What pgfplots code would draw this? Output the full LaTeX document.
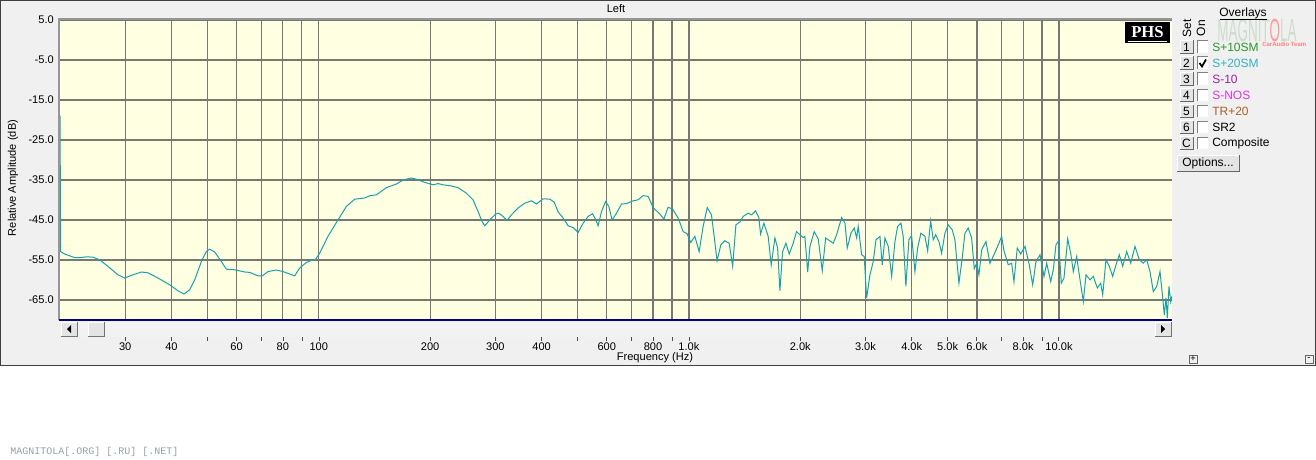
\documentclass[border=0pt]{standalone}
\usepackage{pgfplots}
\pgfplotsset{compat=1.18}
\usepackage{fontspec}
\setmainfont{Liberation Sans}
\newfontfamily\phsfont{Liberation Serif}
\newfontfamily\wmfont{Liberation Mono}
\definecolor{winbg}{RGB}{240,240,240}
\definecolor{plotbg}{RGB}{255,255,225}
\definecolor{gridc}{RGB}{120,120,114}
\definecolor{curve}{RGB}{25,160,175}
\definecolor{frameg}{RGB}{150,150,150}
\definecolor{navyc}{RGB}{0,0,128}
\definecolor{btn}{RGB}{228,228,228}
\definecolor{cgreen}{RGB}{40,150,40}
\definecolor{cteal}{RGB}{50,178,190}
\definecolor{cpurple}{RGB}{160,30,160}
\definecolor{cmag}{RGB}{225,50,225}
\definecolor{cbrown}{RGB}{170,95,40}
\definecolor{wm}{RGB}{150,160,170}
\definecolor{logo}{RGB}{205,220,205}
\begin{document}
\begin{tikzpicture}[font=\fontsize{8.3}{10}\selectfont]
\begin{scope}[x=0.75pt,y=0.75pt]
\useasboundingbox (0,0) rectangle (1316,-460);
\fill[white] (0,0) rectangle (1316,-460);
\fill[winbg] (0,0) rectangle (1316,-365);
\draw[black!75,line width=0.75pt] (0.5,-0.5) rectangle (1315.5,-365);
\node at (616,-9) {Left};
\end{scope}
\begin{axis}[
  at={(45pt,-15pt)}, anchor=north west,
  width=834pt, height=225pt, scale only axis,
  xmode=log, xmin=20, xmax=20200, ymin=-70, ymax=5,
  axis background/.style={fill=plotbg},
  axis line style={draw=none},
  xtick={30,40,60,80,100,200,300,400,600,800,1000,2000,3000,4000,5000,6000,8000,10000},
  xticklabels={30,40,60,80,100,200,300,400,600,800,1.0k,2.0k,3.0k,4.0k,5.0k,6.0k,8.0k,10.0k},
  minor xtick={50,70,90,500,700,900,7000,9000},
  ytick={-65,-55,-45,-35,-25,-15,-5,5},
  yticklabels={-65.0,-55.0,-45.0,-35.0,-25.0,-15.0,-5.0,5.0},
  grid=both,
  major grid style={gridc,line width=0.95pt},
  minor grid style={gridc,line width=0.95pt},
  major tick length=0pt, minor tick length=0pt,
  tick label style={font=\fontsize{8.3}{10}\selectfont},
  xticklabel style={anchor=base,yshift=-23pt},
  yticklabel style={anchor=east,inner sep=0pt,xshift=-4.5pt},
]
\addplot[curve,line width=0.75pt] coordinates {
(20,-18.9)(20.04,-36)(20.08,-52.9)(20.58,-53.5)(21.90,-54.4)(22.84,-54.4)(23.56,-54.2)(24.55,-54.3)
(25.59,-54.95)(26.95,-56.6)(28.68,-58.7)(29.90,-59.5)(31.49,-58.7)(33.18,-58.0)(34.57,-58.2)
(36.79,-59.5)(39.57,-61.2)(41.66,-62.7)(43.25,-63.5)(44.81,-62.45)(46.23,-59.95)(48.19,-55.4)
(49.71,-52.9)(50.75,-52.3)(52.35,-53.0)(54.58,-55.4)(56.31,-57.3)(59.29,-57.45)(63.09,-58.0)
(65.09,-58.1)(68.54,-58.95)(70.44,-58.95)(72.94,-57.9)(76.86,-57.5)(80.08,-57.9)(83.49,-58.5)
(86.13,-58.95)(88.85,-57.0)(92.63,-55.6)(95.56,-55.1)(98.14,-54.8)(100.6,-53.3)(105.9,-49.1)
(112.7,-45.0)(118.8,-41.6)(125.1,-39.8)(133.1,-39.5)(137.3,-38.95)(143.2,-38.7)(152.4,-36.9)
(162.2,-36.0)(169.0,-35.0)(178.1,-34.5)(183.7,-34.8)(193.4,-35.6)(203.7,-36.2)(210.1,-35.9)
(216.8,-36.2)(228.4,-36.5)(237.9,-36.9)(250.7,-38.3)(261.2,-39.95)(269.5,-42.9)(276.3,-45.4)
(281.0,-46.45)(289.9,-44.95)(300.9,-43.5)(306.5,-43.3)(314.8,-44.1)(322.8,-45.1)(331.7,-43.7)
(345.6,-42.0)(360.3,-40.8)(375.7,-40.2)(387.6,-41.0)(403.8,-39.7)(421.0,-39.8)(432.5,-40.5)
(443.5,-43.0)(457.5,-44.5)(471.9,-46.45)(486.8,-46.9)(502.1,-48.1)(518.0,-45.8)(534.4,-44.1)
(549.2,-43.45)(559.6,-44.8)(568.7,-46.45)(580.8,-42.9)(595.5,-40.4)(607.8,-41.6)(620.4,-45.0)
(637.6,-43.3)(657.8,-41.0)(678.6,-40.9)(707.1,-40.2)(729.5,-39.95)(752.5,-38.9)(776.3,-39.1)
(800.8,-41.9)(834.9,-43.5)(855.9,-44.8)(879.0,-41.8)(903.5,-42.3)(935.5,-44.5)(965.1,-47.9)
(989.4,-48.45)(1012,-50.6)(1038,-49.1)(1066,-52.9)(1093,-46.6)(1121,-41.9)(1151,-43.7)
(1175,-50.4)(1192,-55.2)(1220,-51.2)(1251,-50.2)(1285,-50.8)(1313,-56.6)(1340,-46.2)
(1374,-45.5)(1402,-44.1)(1446,-43.3)(1477,-43.7)(1514,-42.7)(1546,-44.4)(1562,-48.5)
(1595,-45.8)(1638,-49.1)(1669,-56.2)(1708,-49.5)(1737,-52.0)(1762,-62.7)(1792,-52.9)
(1829,-50.8)(1867,-53.5)(1914,-50.8)(1954,-47.9)(1995,-48.7)(2036,-49.4)(2058,-49.1)
(2094,-58.0)(2124,-51.6)(2181,-47.9)(2236,-49.7)(2293,-57.7)(2342,-49.5)(2380,-49.95)
(2455,-50.8)(2507,-48.7)(2587,-44.4)(2641,-45.8)(2679,-52.0)(2741,-48.3)(2798,-47.0)
(2840,-49.5)(2868,-46.6)(2930,-53.7)(2977,-54.1)(3022,-64.5)(3085,-58.7)(3149,-55.4)
(3202,-49.95)(3283,-49.1)(3330,-56.2)(3386,-49.5)(3457,-51.6)(3531,-59.1)(3604,-50.4)
(3664,-46.6)(3741,-45.8)(3794,-49.1)(3858,-61.6)(3931,-49.95)(3998,-48.9)(4081,-57.9)
(4150,-52.0)(4236,-48.3)(4343,-49.1)(4417,-52.7)(4500,-45.2)(4573,-49.95)(4642,-48.7)
(4738,-50.4)(4818,-53.3)(4918,-48.3)(5020,-46.2)(5147,-47.45)(5234,-49.95)(5366,-60.8)
(5477,-54.5)(5570,-48.3)(5686,-47.0)(5808,-49.5)(5903,-57.2)(5992,-55.8)(6078,-58.7)
(6181,-52.45)(6349,-50.4)(6509,-55.8)(6673,-53.7)(6854,-51.2)(7000,-49.1)(7101,-52.7)
(7294,-56.2)(7450,-55.8)(7557,-60.4)(7714,-52.0)(7879,-53.5)(8093,-51.6)(8312,-56.2)
(8490,-61.2)(8666,-55.4)(8885,-53.7)(9109,-59.1)(9263,-55.8)(9497,-60.4)(9652,-57.45)
(9814,-51.2)(9980,-50.2)(10143,-60.8)(10315,-59.5)(10555,-49.7)(10754,-53.3)(10930,-57.9)
(11164,-54.1)(11396,-59.95)(11632,-65.4)(11829,-58.7)(12127,-59.95)(12379,-59.1)(12690,-62.0)
(12962,-60.8)(13124,-63.7)(13396,-54.95)(13674,-56.6)(13966,-59.1)(14256,-56.2)(14552,-53.7)
(14863,-56.6)(15238,-52.9)(15621,-55.8)(16045,-51.6)(16480,-54.95)(16895,-55.8)(17256,-54.95)
(17614,-57.9)(17980,-62.9)(18365,-61.6)(18746,-57.9)(19064,-64.5)(19255,-68.7)(19459,-64.5)
(19618,-69.5)(19826,-61.6)(20037,-65.4)(20162,-64.1)
};
\end{axis}
\begin{scope}[x=0.75pt,y=0.75pt]
% plot frame
\draw[frameg,line width=1.5pt] (58,-19.5) -- (1172,-19.5);
\draw[frameg,line width=1.5pt] (59,-19) -- (59,-320);
\draw[navyc,line width=1pt] (59,-320) -- (1172,-320);
% scrollbar
\fill[black!5] (60,-321) rectangle (1172,-337);
\foreach \a/\b in {61/77,88/104,1155/1171}{
  \fill[btn] (\a,-322) rectangle (\b,-336);
  \draw[white,line width=0.75pt] (\a,-336) -- (\a,-322) -- (\b,-322);
  \draw[black!55,line width=0.75pt] (\a,-336) -- (\b,-336) -- (\b,-322);
}
\fill[black] (67,-329) -- (71,-325) -- (71,-333) -- cycle;
\fill[black] (1165,-329) -- (1161,-325) -- (1161,-333) -- cycle;
% ticks under the scrollbar
\foreach \f in {30,40,50,60,70,80,90,100,200,300,400,500,600,700,800,900,1000,2000,3000,4000,5000,6000,7000,8000,9000,10000}{
  \pgfmathsetmacro\xx{60.4+370*log10(\f/20)}
  \draw[black!70,line width=0.75pt] (\xx,-337) -- (\xx,-341);
}
% axis labels
\node[rotate=90] at (13,-178) {Relative Amplitude (dB)};
\node at (655,-358) {Frequency (Hz)};
% PHS box
\fill[black] (1125,-22) rectangle (1170,-43);
\node[text=white,font=\phsfont\bfseries\fontsize{12.5}{14}\selectfont] at (1147.5,-32) {PHS};
\draw[white,line width=0.6pt] (1128,-41) -- (1167,-41);
% logo watermark
\node[text=logo,font=\fontsize{24}{26}\selectfont,xscale=0.42,inner sep=0pt] at (1257,-30) {MAGNIT\textcolor{red!40}{O}LA};
\node[anchor=west,text=red!50,font=\bfseries\fontsize{4.5}{5}\selectfont,inner sep=0pt] at (1262,-44) {CarAudio Team};
% overlays panel
\node[font=\fontsize{9}{11}\selectfont] at (1243,-13) {Overlays};
\draw[black,line width=0.6pt] (1220,-19) -- (1267,-19);
\node[rotate=90,font=\fontsize{9}{11}\selectfont] at (1187,-28) {Set};
\node[rotate=90,font=\fontsize{9}{11}\selectfont] at (1201,-28) {On};
\foreach \k/\lab/\txt/\col in {0/1/S+10SM/cgreen,1/2/S+20SM/cteal,2/3/S-10/cpurple,3/4/S-NOS/cmag,4/5/TR+20/cbrown,5/6/SR2/black,6/C/Composite/black}{
  \pgfmathsetmacro\yc{-(47+16*\k)}
  \fill[btn] (1180,\yc+6.5) rectangle (1193,\yc-6.5);
  \draw[white,line width=0.75pt] (1180,\yc-6.5) -- (1180,\yc+6.5) -- (1193,\yc+6.5);
  \draw[black!60,line width=0.75pt] (1180,\yc-6.5) -- (1193,\yc-6.5) -- (1193,\yc+6.5);
  \node[font=\fontsize{9}{11}\selectfont] at (1186.5,\yc) {\lab};
  \fill[white] (1197,\yc+6) rectangle (1208,\yc-6);
  \draw[black!50,line width=0.75pt] (1197,\yc-6) -- (1197,\yc+6) -- (1208,\yc+6);
  \node[anchor=west,text=\col,inner sep=0pt,font=\fontsize{9}{11}\selectfont] at (1212,\yc) {\txt};
}
\draw[black,line width=1.3pt] (1199.5,-63) -- (1202,-66.5) -- (1206,-59.5);
% options button
\fill[btn] (1177,-155) rectangle (1239,-171);
\draw[white,line width=0.75pt] (1177,-171) -- (1177,-155) -- (1239,-155);
\draw[black!60,line width=0.75pt] (1177,-171) -- (1239,-171) -- (1239,-155);
\node[font=\fontsize{9}{11}\selectfont] at (1208,-163) {Options...};
% small +/- buttons
\draw[black!60,line width=0.6pt] (1189,-355) rectangle (1197,-363);
\node[font=\fontsize{7}{8}\selectfont,inner sep=0pt] at (1193,-359) {+};
\draw[black!60,line width=0.6pt] (1305,-355) rectangle (1313,-363);
\node[font=\fontsize{7}{8}\selectfont,inner sep=0pt] at (1309,-359) {-};
% bottom watermark
\node[anchor=base west,inner sep=0pt,text=wm,font=\wmfont\fontsize{7.5}{9}\selectfont] at (10,-454) {MAGNITOLA[.ORG] [.RU] [.NET]};
\end{scope}
\end{tikzpicture}
\end{document}
